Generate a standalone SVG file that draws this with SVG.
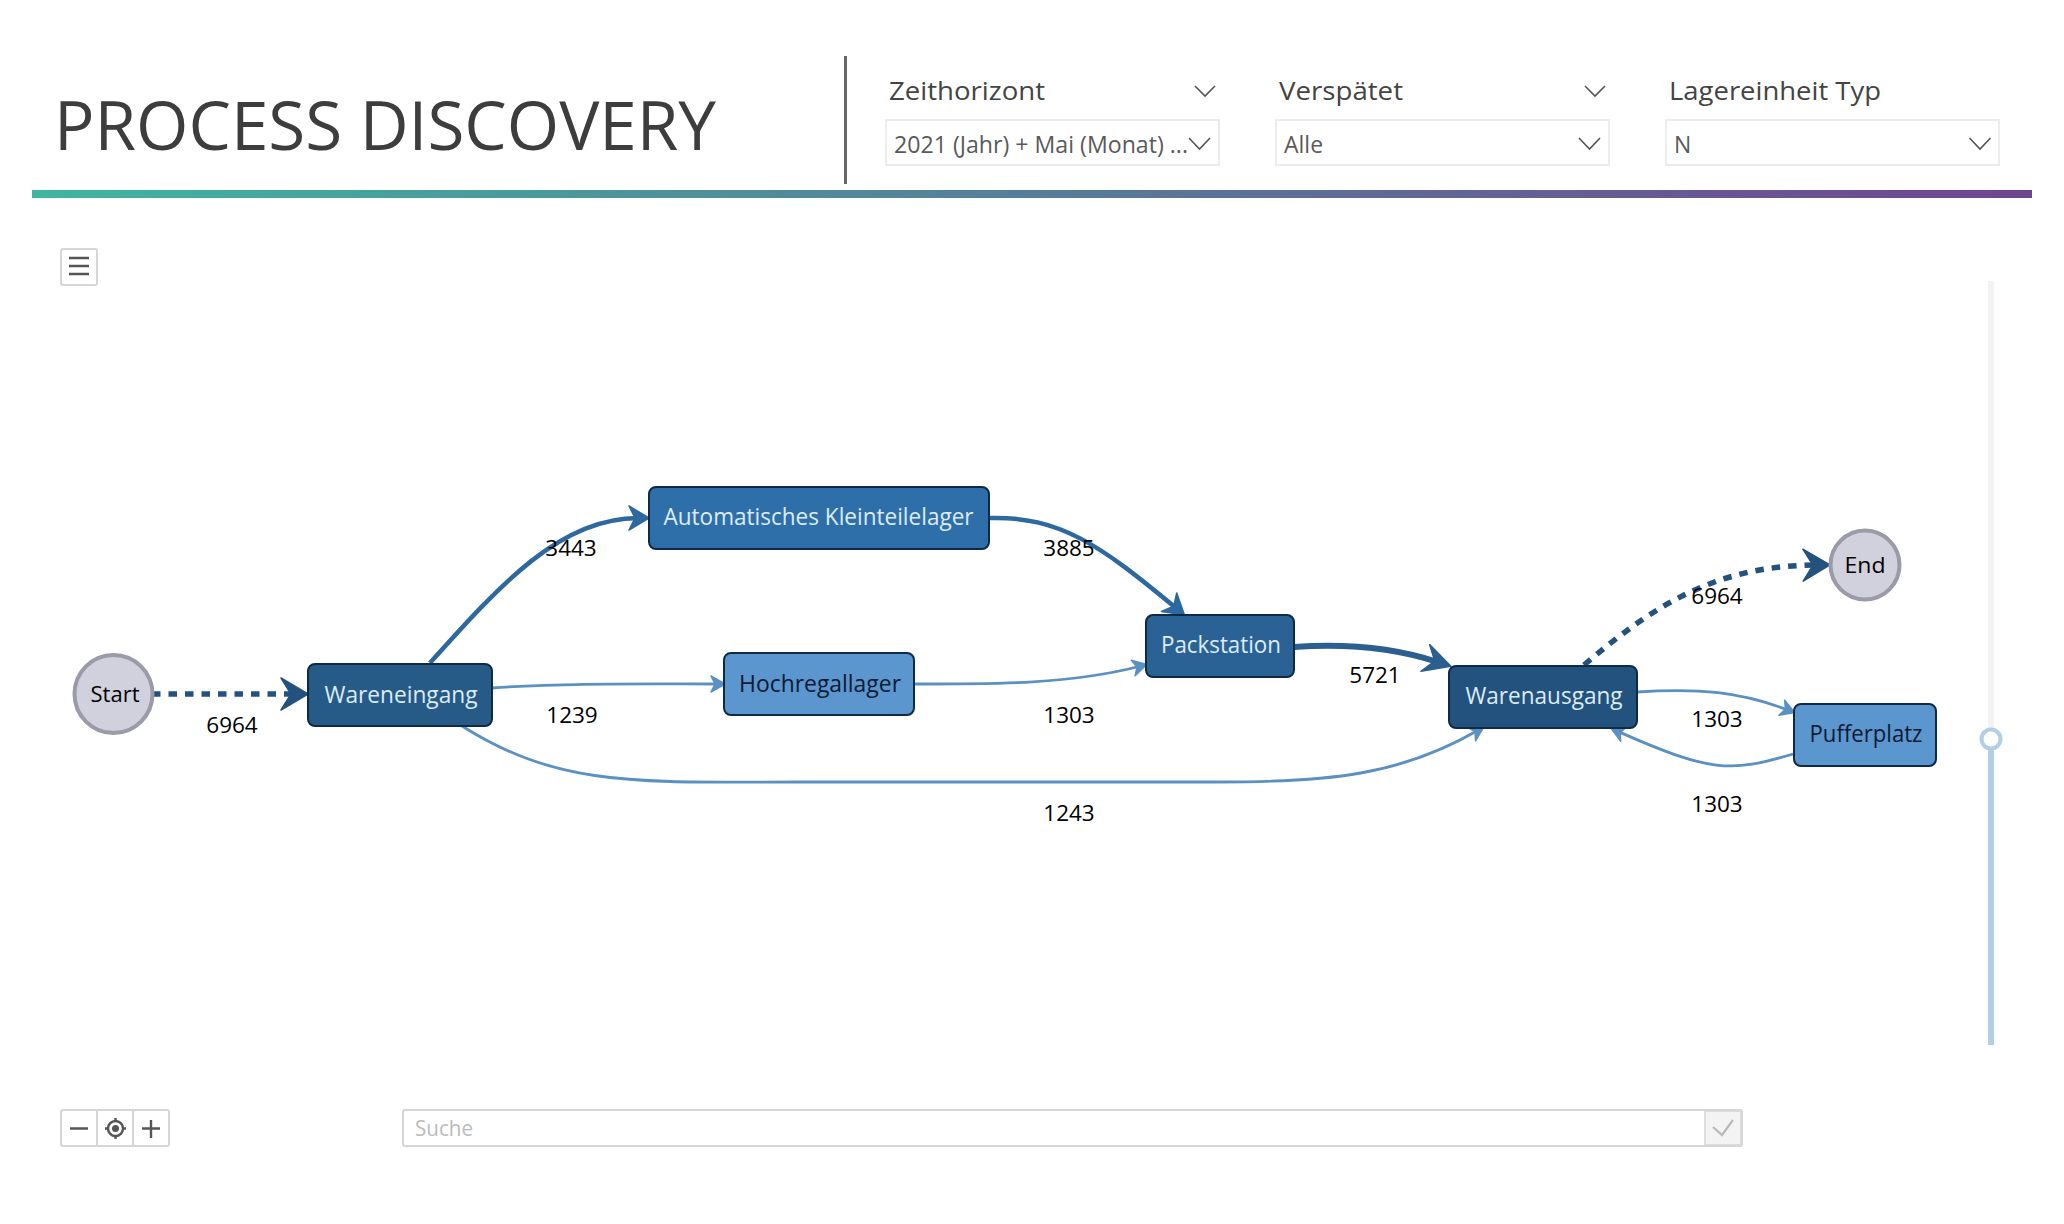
<svg xmlns="http://www.w3.org/2000/svg" width="2064" height="1224" viewBox="0 0 2064 1224">
<style>
text{font-family:"Open Sans","Noto Sans",sans-serif}
.title{font-size:67px;fill:#3d3d3d}
.flabel{font-size:26px;fill:#444}
.fvalue{font-size:23px;fill:#5a5a5a}
.fbox{fill:#fff;stroke:#ececec;stroke-width:2}
.chev{fill:none;stroke:#555;stroke-width:1.6}
.ctl{fill:#fff;stroke:#d6d6d6;stroke-width:2}
.ico{fill:none;stroke:#555;stroke-width:2.4}
.node{stroke:#0e2a45;stroke-width:2}
.nl{font-size:23.5px;text-anchor:middle;fill:#dcecf9}
.nd{font-size:23.5px;text-anchor:middle;fill:#0a1a33}
.circ{fill:#d0d1dc;stroke:#9a9aa8;stroke-width:4}
.cl{font-size:22.5px;text-anchor:middle;fill:#000}
.el{font-size:22.5px;text-anchor:middle;fill:#000}
.e{fill:none}
.d{stroke:#24527f;stroke-width:5.5;stroke-dasharray:8.5 8}
.m{stroke:#2d689f;stroke-width:4.5}
.t{stroke:#5b90c2;stroke-width:2.8}
.k{stroke:#2a5f90;stroke-width:6}
.hd{fill:#24527f;stroke:#24527f}
.hk{fill:#2a5f90;stroke:#2a5f90}
.hm{fill:#2d689f;stroke:#2d689f}
.ht{fill:#5b90c2;stroke:#5b90c2}
.hd,.hk,.hm,.ht{stroke-width:1.5;stroke-linejoin:round}
</style>
<defs>
<linearGradient id="bar" x1="0" x2="1" y1="0" y2="0"><stop offset="0" stop-color="#3fb5a0"/><stop offset="1" stop-color="#6f4590"/></linearGradient>
<marker id="ad" markerUnits="userSpaceOnUse" markerWidth="32" markerHeight="38" viewBox="-2 -19 32 38" refX="13" refY="0" orient="auto"><path class="hd" d="M0-16L27 0L0 16L10 0Z"/></marker>
<marker id="ak" markerUnits="userSpaceOnUse" markerWidth="32" markerHeight="36" viewBox="-2 -18 32 36" refX="13" refY="0" orient="auto"><path class="hk" d="M0-14L27 0L0 14L10 0Z"/></marker>
<marker id="am" markerUnits="userSpaceOnUse" markerWidth="26" markerHeight="30" viewBox="-2 -15 26 30" refX="9" refY="0" orient="auto"><path class="hm" d="M0-12L20 0L0 12L6 0Z"/></marker>
<marker id="at" markerUnits="userSpaceOnUse" markerWidth="20" markerHeight="22" viewBox="-2 -11 20 22" refX="6" refY="0" orient="auto"><path class="ht" d="M0-8L14 0L0 8L4 0Z"/></marker>
</defs>
<rect width="2064" height="1224" fill="#fff"/>
<g id="header">
<text class="title" x="54" y="150" textLength="662" lengthAdjust="spacingAndGlyphs">PROCESS DISCOVERY</text>
<rect x="844" y="56" width="3" height="128" fill="#666"/>
<rect x="32" y="190" width="2000" height="8" fill="url(#bar)"/>
</g>
<g id="filter-zeithorizont">
<text class="flabel" x="889" y="100" textLength="156" lengthAdjust="spacingAndGlyphs">Zeithorizont</text>
<path class="chev" d="M1195 86L1205 96L1215 86"/>
<rect class="fbox" x="886" y="120" width="333" height="45"/>
<text class="fvalue" x="894" y="153" textLength="294" lengthAdjust="spacingAndGlyphs">2021 (Jahr) + Mai (Monat) ...</text>
<path class="chev" d="M1189 138L1199.500 149L1210 138"/>
</g>
<g id="filter-verspaetet">
<text class="flabel" x="1279" y="100" textLength="124" lengthAdjust="spacingAndGlyphs">Verspätet</text>
<path class="chev" d="M1585 86L1595 96L1605 86"/>
<rect class="fbox" x="1276" y="120" width="333" height="45"/>
<text class="fvalue" x="1284" y="153">Alle</text>
<path class="chev" d="M1579 138L1589.500 149L1600 138"/>
</g>
<g id="filter-lagereinheit">
<text class="flabel" x="1669" y="100" textLength="212" lengthAdjust="spacingAndGlyphs">Lagereinheit Typ</text>
<rect class="fbox" x="1666" y="120" width="333" height="45"/>
<text class="fvalue" x="1674" y="153">N</text>
<path class="chev" d="M1969.500 138L1980 149L1990.500 138"/>
</g>
<g id="menu-button">
<rect class="ctl" x="61" y="249" width="36" height="36" rx="2"/>
<path class="ico" d="M69 258H89M69 266H89M69 274H89"/>
</g>
<g id="connectors">
<path class="e d" d="M152 694H294" marker-end="url(#ad)"/>
<path class="e m" d="M430 663C500 585 560 518 638 518" marker-end="url(#am)"/>
<path class="e t" d="M492 688C560 683 640 684 717 684" marker-end="url(#at)"/>
<path class="e t" d="M462 726C560 788 640 782 800 782L1220 782C1330 782 1400 775 1476.800 731" marker-end="url(#at)"/>
<path class="e m" d="M989 518C1060 516 1100 545 1176 608" marker-end="url(#am)"/>
<path class="e t" d="M914 684C1000 684 1070 684 1139 666.500" marker-end="url(#at)"/>
<path class="e k" d="M1294 647C1350 643 1395 648 1437.600 662" marker-end="url(#ak)"/>
<path class="e d" d="M1584 665C1660 600 1720 566 1816 565" marker-end="url(#ad)"/>
<path class="e t" d="M1637 692C1700 688 1740 692 1787.400 709.800" marker-end="url(#at)"/>
<path class="e t" d="M1793 754C1730 773 1710 772 1618.400 731.600" marker-end="url(#at)"/>
<text class="el" x="232" y="733">6964</text>
<text class="el" x="571" y="556">3443</text>
<text class="el" x="572" y="723">1239</text>
<text class="el" x="1069" y="556">3885</text>
<text class="el" x="1069" y="723">1303</text>
<text class="el" x="1069" y="821">1243</text>
<text class="el" x="1375" y="683">5721</text>
<text class="el" x="1717" y="604">6964</text>
<text class="el" x="1717" y="727">1303</text>
<text class="el" x="1717" y="812">1303</text>
</g>
<g id="node-start"><circle class="circ" cx="113.500" cy="694" r="39"/><text class="cl" x="115" y="702" textLength="49" lengthAdjust="spacingAndGlyphs">Start</text></g>
<g id="node-wareneingang"><rect class="node" x="308" y="664" width="184" height="62" rx="7" fill="#265a87"/><text class="nl" x="401" y="703" textLength="153" lengthAdjust="spacingAndGlyphs">Wareneingang</text></g>
<g id="node-kleinteilelager"><rect class="node" x="649" y="487" width="340" height="62" rx="7" fill="#2f6fa9"/><text class="nl" x="818.500" y="525" textLength="310" lengthAdjust="spacingAndGlyphs">Automatisches Kleinteilelager</text></g>
<g id="node-hochregallager"><rect class="node" x="724" y="653" width="190" height="62" rx="7" fill="#5b96cf"/><text class="nd" x="820" y="692" textLength="162" lengthAdjust="spacingAndGlyphs">Hochregallager</text></g>
<g id="node-packstation"><rect class="node" x="1146" y="615" width="148" height="62" rx="7" fill="#2b6296"/><text class="nl" x="1221" y="653" textLength="120" lengthAdjust="spacingAndGlyphs">Packstation</text></g>
<g id="node-warenausgang"><rect class="node" x="1449" y="666" width="188" height="62" rx="7" fill="#24527f"/><text class="nl" x="1544" y="704" textLength="157" lengthAdjust="spacingAndGlyphs">Warenausgang</text></g>
<g id="node-pufferplatz"><rect class="node" x="1794" y="704" width="142" height="62" rx="7" fill="#5b96cf"/><text class="nd" x="1866" y="742" textLength="113" lengthAdjust="spacingAndGlyphs">Pufferplatz</text></g>
<g id="node-end"><circle class="circ" cx="1865" cy="565" r="34.500"/><text class="cl" x="1865" y="573" textLength="41" lengthAdjust="spacingAndGlyphs">End</text></g>
<g id="slider">
<rect x="1988" y="281" width="6" height="447" fill="#f3f3f3"/>
<rect x="1988" y="746" width="6" height="299" fill="#b3cfe6"/>
<circle cx="1991" cy="739" r="9.500" fill="#fff" stroke="#b3cfe6" stroke-width="4"/>
</g>
<g id="zoom-controls">
<rect class="ctl" x="61" y="1110" width="108" height="36" rx="2"/>
<path d="M97 1110V1146M133 1110V1146" stroke="#d6d6d6" stroke-width="2" fill="none"/>
<path class="ico" d="M70 1128.500H88M142 1128.500H160M151 1120V1138"/>
<circle class="ico" cx="115.500" cy="1128.500" r="7.500"/><circle cx="115.500" cy="1128.500" r="3.500" fill="#555"/>
<path class="ico" d="M115.500 1118V1122M115.500 1135V1139M105 1128.500H109M122 1128.500H126"/>
</g>
<g id="search">
<rect class="ctl" x="403" y="1110" width="1339" height="36" rx="2"/>
<rect x="1705" y="1111" width="36" height="34" fill="#f3f3f3" stroke="#d6d6d6" stroke-width="1.500"/>
<path d="M1713 1127L1722 1135L1733 1120" fill="none" stroke="#b9b9b9" stroke-width="2.200"/>
<text x="415" y="1136" font-size="22" fill="#bbb" textLength="58" lengthAdjust="spacingAndGlyphs">Suche</text>
</g>
</svg>
